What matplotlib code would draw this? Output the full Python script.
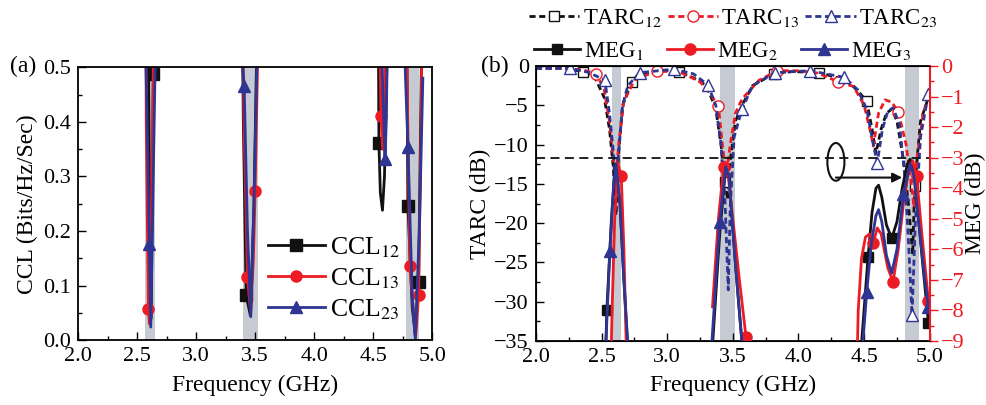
import numpy as np
import matplotlib
matplotlib.use('Agg')
import matplotlib.pyplot as plt
from matplotlib.patches import Ellipse
from matplotlib.ticker import MultipleLocator

plt.rcParams['font.family'] = ['Liberation Serif', 'DejaVu Serif']
plt.rcParams['mathtext.fontset'] = 'stix'

BLACK = '#111111'
RED = '#ed1c24'
BLUE = '#2e3592'
BAND = '#c6cad3'
nan = np.nan

# ---- (a) CCL, values past 0.5 are clipped by the axes ----
f_c12 = [2.0, 2.55, 2.59, 2.605, 2.62, 2.63, 2.638, 2.65, 2.75, 3.3, 3.38, 3.40, 3.424, 3.46, 3.49,
         3.515, 3.6, 4.45, 4.53, 4.545, 4.548, 4.56, 4.578, 4.595, 4.615, 4.70, 4.76, 4.786, 4.794,
         4.83, 4.856, 4.884, 4.907, 4.95, 5.0]
ccl12 = [2.5, 1.5, 0.7, 0.3, 0.04, 0.3, 0.488, 0.8, 2.0, 2.0, 0.8, 0.4, 0.082, 0.045, 0.25,
         0.55, 1.8, 2.0, 0.8, 0.5, 0.361, 0.27, 0.238, 0.3, 0.5, 1.8, 1.0, 0.5, 0.245,
         0.06, 0.009, 0.107, 0.5, 1.5, 2.0]
f_c13 = [2.0, 2.55, 2.575, 2.578, 2.596, 2.605, 2.62, 2.638, 2.66, 3.3, 3.38, 3.405, 3.435, 3.462,
         3.485, 3.50, 3.52, 3.6, 4.45, 4.54, 4.565, 4.58, 4.595, 4.61, 4.70, 4.75, 4.785, 4.81,
         4.858, 4.884, 4.905, 4.93, 5.0]
ccl13 = [2.5, 1.2, 0.6, 0.4, 0.058, 0.03, 0.2, 0.5, 1.0, 2.0, 0.8, 0.4, 0.116, 0.05,
         0.15, 0.273, 0.5, 1.8, 2.0, 0.8, 0.41, 0.35, 0.45, 0.7, 1.8, 1.0, 0.5, 0.135,
         0.003, 0.082, 0.4, 0.9, 2.0]
f_c23 = [2.0, 2.55, 2.576, 2.595, 2.604, 2.616, 2.63, 2.653, 2.68, 3.3, 3.395, 3.407, 3.435, 3.463,
         3.49, 3.514, 3.6, 4.45, 4.56, 4.575, 4.60, 4.61, 4.617, 4.68, 4.74, 4.77, 4.794, 4.83,
         4.856, 4.89, 4.92]
ccl23 = [2.5, 1.2, 0.5, 0.3, 0.177, 0.024, 0.2, 0.5, 1.0, 2.0, 0.5, 0.465, 0.2, 0.043,
         0.25, 0.5, 1.8, 2.0, 0.7, 0.5, 0.331, 0.4, 0.5, 1.5, 1.2, 0.5, 0.353, 0.08,
         0.003, 0.2, 0.48]
mk_c12 = [2.638, 3.424, 4.548, 4.794, 4.884]
mk_c13 = [2.596, 3.435, 3.50, 4.565, 4.81, 4.884]
mk_c23 = [2.604, 3.407, 4.60, 4.794]

# ---- (b) TARC (left axis, dB) ----
f_t12 = [2.0, 2.2, 2.36, 2.45, 2.52, 2.56, 2.59, 2.61, 2.63, 2.66, 2.73, 2.85, 3.0, 3.09, 3.2, 3.3,
         3.37, 3.41, 3.44, 3.46, 3.48, 3.52, 3.57, 3.65, 3.81, 3.95, 4.16, 4.3, 4.4, 4.47, 4.52,
         4.56, 4.59, 4.63, 4.67, 4.71, 4.75, 4.80, 4.84, 4.87, 4.885, 4.93, 5.0]
tarc12 = [-0.3, -0.3, -0.7, -1.5, -4.0, -8.0, -13.0, -19.0, -11.0, -5.0, -2.0, -0.9, -0.6, -0.75,
          -1.5, -2.5, -5.5, -10.0, -14.7, -17.0, -12.0, -7.0, -5.0, -2.5, -1.0, -0.7, -0.85, -1.5,
          -2.3, -3.5, -4.5, -8.0, -11.1, -8.0, -6.0, -5.5, -7.0, -12.0, -18.0, -24.0, -15.3, -7.0,
          -3.5]
f_t13 = [2.0, 2.2, 2.36, 2.46, 2.52, 2.56, 2.59, 2.61, 2.63, 2.67, 2.75, 2.92, 3.1, 3.25, 3.33, 3.39,
         3.42, 3.45, 3.48, 3.52, 3.57, 3.7, 3.84, 4.0, 4.15, 4.30, 4.42, 4.5, 4.55, 4.57, 4.61, 4.66,
         4.71, 4.76, 4.82, 4.86, 4.88, 4.9, 4.95, 5.0]
tarc13 = [-0.2, -0.3, -0.5, -1.0, -3.0, -7.0, -12.0, -14.5, -10.0, -4.5, -1.8, -0.6, -0.8, -2.0,
          -3.6, -5.1, -10.0, -14.0, -10.0, -6.0, -4.2, -1.8, -0.6, -0.6, -0.9, -2.0, -2.6, -5.0,
          -8.5, -10.2, -6.0, -4.3, -4.6, -5.8, -10.0, -15.0, -18.0, -12.0, -6.0, -3.3]
f_t23 = [2.0, 2.26, 2.4, 2.525, 2.56, 2.59, 2.61, 2.63, 2.66, 2.70, 2.79, 3.05, 3.2, 3.31, 3.37,
         3.41, 3.44, 3.465, 3.48, 3.51, 3.57, 3.65, 3.82, 4.09, 4.35, 4.45, 4.52, 4.57, 4.60, 4.64,
         4.68, 4.72, 4.77, 4.81, 4.84, 4.865, 4.89, 4.93, 4.99, 5.0]
tarc23 = [-0.3, -0.3, -0.8, -1.8, -6.0, -11.0, -16.0, -11.0, -5.0, -2.5, -0.85, -0.4, -1.0, -2.4,
          -5.0, -10.0, -17.0, -28.5, -18.0, -9.0, -5.5, -2.5, -0.85, -0.6, -1.45, -3.0, -5.5,
          -10.0, -12.3, -8.0, -5.8, -5.3, -7.5, -14.0, -23.0, -31.7, -20.0, -9.0, -3.5, -3.2]
mk_t12 = [2.36, 2.73, 3.09, 3.44, 3.81, 4.16, 4.52, 4.885]
mk_t13 = [2.46, 2.92, 3.39, 3.84, 4.30, 4.76]
mk_t23 = [2.26, 2.525, 2.79, 3.05, 3.31, 3.57, 3.82, 4.09, 4.35, 4.60, 4.865, 4.99]

# ---- (b) MEG (right axis, dB), nan splits the bands ----
f_m1 = [2.50, 2.54, 2.575, 2.605, 2.64, 2.67, 2.70, 2.72, nan, 3.30, 3.34, 3.40, 3.445, 3.47, 3.52,
        3.57, 3.59, nan, 4.45, 4.48, 4.53, 4.56, 4.59, 4.61, 4.635, 4.67, 4.71, 4.75, 4.79, 4.83,
        4.85, 4.875, 4.90, 4.94, 4.99]
meg1 = [-14, -8.0, -5.0, -3.2, -4.5, -7.0, -9.3, -11.0, nan, -14, -9.5, -5.5, -3.3, -3.6, -6.5,
        -9.1, -11.0, nan, -12.0, -9.1, -6.25, -4.8, -4.0, -3.9, -4.3, -5.2, -5.64, -5.1, -4.0, -3.2,
        -3.05, -3.3, -4.3, -6.2, -8.4]
f_m2 = [2.56, 2.58, 2.60, 2.625, 2.65, 2.67, 2.69, 2.72, nan, 3.345, 3.39, 3.43, 3.46, 3.50, 3.55,
        3.60, 3.62, nan, 4.44, 4.455, 4.48, 4.51, 4.54, 4.57, 4.60, 4.63, 4.68, 4.72, 4.76, 4.80,
        4.84, 4.87, 4.90, 4.94, 4.99]
meg2 = [-12, -8, -5, -3.2, -3.6, -6, -9.5, -13, nan, -7.88, -5.0, -3.3, -3.4, -5.0, -7.0,
        -8.86, -10, nan, -11, -8.0, -6.3, -5.6, -5.5, -5.8, -5.3, -5.5, -6.6, -7.06, -6.0, -4.5,
        -3.4, -3.1, -3.6, -5.5, -7.7]
f_m3 = [2.51, 2.533, 2.563, 2.59, 2.61, 2.64, 2.67, 2.70, 2.72, nan, 3.32, 3.34, 3.40, 3.445, 3.47,
        3.52, 3.57, 3.59, nan, 4.47, 4.49, 4.52, 4.555, 4.59, 4.61, 4.635, 4.67, 4.71, 4.75, 4.80,
        4.85, 4.88, 4.92, 4.96, 4.99]
meg3 = [-11, -9.06, -6.07, -4.0, -3.2, -4.5, -7.0, -9.1, -11, nan, -11, -9.06, -5.09, -3.3, -3.6,
        -6.5, -9.06, -11, nan, -11, -9.06, -7.4, -5.8, -4.9, -4.7, -5.1, -6.2, -6.78, -6.0, -4.2,
        -3.2, -3.6, -5.3, -6.9, -7.9]
mk_m1 = [2.54, 4.53, 4.71, 4.99]
mk_m2 = [2.65, 3.43, 3.60, 4.57, 4.72, 4.90, 4.99]
mk_m3 = [2.563, 3.40, 4.52, 4.80, 4.99]

bands_a = [(2.57, 2.65), (3.40, 3.52), (4.78, 4.89)]
bands_b = [(2.58, 2.65), (3.40, 3.515), (4.81, 4.915)]


def idx(f, marks):
    f = np.asarray(f, dtype=float)
    return [int(np.nanargmin(np.abs(f - m))) for m in marks]


def style_ticks(ax):
    ax.tick_params(which='both', direction='in', labelsize=16, top=False, right=False)
    ax.tick_params(which='major', length=6, width=1, pad=5)
    ax.tick_params(which='minor', length=3, width=1)
    for s in ax.spines.values():
        s.set_linewidth(1.3)


fig = plt.figure(figsize=(9.87, 4.05), dpi=100)

# ---------------- (a) ----------------
ax1 = fig.add_axes([0.079, 0.160, 0.359, 0.674])
for a, b in bands_a:
    ax1.axvspan(a, b, color=BAND, lw=0, zorder=0)
ax1.plot(f_c12, ccl12, color=BLACK, lw=2, marker='s', ms=8, markevery=idx(f_c12, mk_c12),
         label='CCL$_{12}$')
ax1.plot(f_c13, ccl13, color=RED, lw=2, marker='o', ms=8, markevery=idx(f_c13, mk_c13),
         label='CCL$_{13}$')
ax1.plot(f_c23, ccl23, color=BLUE, lw=2, marker='^', ms=9, markevery=idx(f_c23, mk_c23),
         label='CCL$_{23}$')
ax1.set_xlim(2.0, 5.0)
ax1.set_ylim(0.0, 0.5)
ax1.xaxis.set_major_locator(MultipleLocator(0.5))
ax1.xaxis.set_minor_locator(MultipleLocator(0.25))
ax1.yaxis.set_major_locator(MultipleLocator(0.1))
ax1.yaxis.set_minor_locator(MultipleLocator(0.05))
ax1.xaxis.set_major_formatter(lambda v, p: f'{v:.1f}')
ax1.yaxis.set_major_formatter(lambda v, p: f'{v:.1f}')
style_ticks(ax1)
ax1.set_xlabel('Frequency (GHz)', fontsize=17, labelpad=6)
ax1.set_ylabel('CCL (Bits/Hz/Sec)', fontsize=17, labelpad=4)
ax1.legend(loc='upper left', bbox_to_anchor=(0.535, 0.385), frameon=False, fontsize=18.5,
           handlelength=2.25, handletextpad=0.2, labelspacing=0.25, borderpad=0, borderaxespad=0)
fig.text(0.010, 0.835, '(a)', fontsize=17, va='center')

# ---------------- (b) ----------------
ax2 = fig.add_axes([0.543, 0.158, 0.399, 0.679])
ax3 = ax2.twinx()
for a, b in bands_b:
    ax2.axvspan(a, b, color=BAND, lw=0, zorder=0)
dash = (0, (2.2, 1.3))
t1, = ax2.plot(f_t12, tarc12, color=BLACK, lw=2, ls=dash, marker='s', ms=7, mfc='white',
               mew=1, markevery=idx(f_t12, mk_t12), label='TARC$_{12}$')
t2, = ax2.plot(f_t13, tarc13, color=RED, lw=2, ls=dash, marker='o', ms=8, mfc='white',
               mew=1, markevery=idx(f_t13, mk_t13), label='TARC$_{13}$')
t3, = ax2.plot(f_t23, tarc23, color=BLUE, lw=2, ls=dash, marker='^', ms=8, mfc='white',
               mew=1, markevery=idx(f_t23, mk_t23), label='TARC$_{23}$')
m1, = ax3.plot(f_m1, meg1, color=BLACK, lw=2, marker='s', ms=7,
               markevery=idx(f_m1, mk_m1), label='MEG$_1$')
m2, = ax3.plot(f_m2, meg2, color=RED, lw=2, marker='o', ms=8,
               markevery=idx(f_m2, mk_m2), label='MEG$_2$')
m3, = ax3.plot(f_m3, meg3, color=BLUE, lw=2, marker='^', ms=8,
               markevery=idx(f_m3, mk_m3), label='MEG$_3$')
ax3.axhline(-3, color=BLACK, lw=1.3, ls=(0, (5, 3)))

ax2.add_patch(Ellipse((4.285, -12.2), 0.13, 4.8, fill=False, ec=BLACK, lw=1.5))
ax2.annotate('', xy=(4.79, -14.2), xytext=(4.285, -14.2),
             arrowprops=dict(arrowstyle='-|>', color=BLACK, lw=1.5, mutation_scale=14,
                             shrinkA=0, shrinkB=0))

ax2.set_xlim(2.0, 5.0)
ax2.set_ylim(-35, 0)
ax3.set_ylim(-9, 0)
ax2.xaxis.set_major_locator(MultipleLocator(0.5))
ax2.xaxis.set_minor_locator(MultipleLocator(0.25))
ax2.yaxis.set_major_locator(MultipleLocator(5))
ax2.yaxis.set_minor_locator(MultipleLocator(2.5))
ax2.xaxis.set_major_formatter(lambda v, p: f'{v:.1f}')
ax3.yaxis.set_major_locator(MultipleLocator(1))
ax3.yaxis.set_minor_locator(MultipleLocator(0.5))
style_ticks(ax2)
ax3.tick_params(which='both', direction='out', labelsize=16, colors=RED)
ax3.tick_params(which='major', length=6, width=1, pad=2)
ax3.tick_params(which='minor', length=3, width=1)
ax3.spines['right'].set_color(RED)
ax3.spines['right'].set_linewidth(1.5)
ax2.set_xlabel('Frequency (GHz)', fontsize=17, labelpad=6)
ax2.set_ylabel('TARC (dB)', fontsize=17, labelpad=2)
ax3.set_ylabel('MEG (dB)', fontsize=17, labelpad=0)
fig.text(0.487, 0.835, '(b)', fontsize=17, va='center')

fig.legend(handles=[t1, t2, t3], ncol=3, loc='center left', bbox_to_anchor=(0.536, 0.955),
           frameon=False, fontsize=16.5, handlelength=2.2, handletextpad=0.15, columnspacing=0.25,
           borderpad=0, borderaxespad=0)
fig.legend(handles=[m1, m2, m3], ncol=3, loc='center left', bbox_to_anchor=(0.541, 0.875),
           frameon=False, fontsize=16.5, handlelength=2.0, handletextpad=0.2, columnspacing=1.0,
           borderpad=0, borderaxespad=0)

fig.savefig('out.png', dpi=100)
